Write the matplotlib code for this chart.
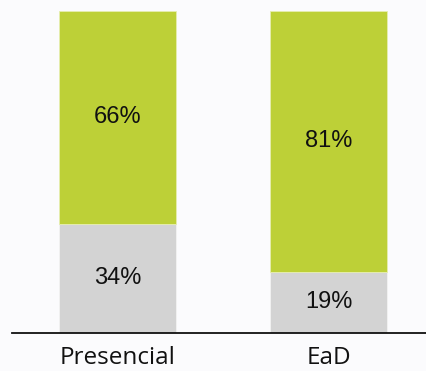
import matplotlib
matplotlib.use("Agg")
import matplotlib.pyplot as plt

categories = ["Presencial", "EaD"]
bottom_vals = [34, 19]
top_vals = [66, 81]

plt.rcParams['font.family'] = ['Liberation Sans', 'DejaVu Sans']
bg = "#FBFBFD"
fig = plt.figure(figsize=(4.26, 3.71), dpi=100, facecolor=bg)
ax = fig.add_axes([12/426, 38/371, 414/426, 322/371])
ax.set_facecolor(bg)
x = range(len(categories))
w = 0.553
ax.bar(x, bottom_vals, width=w, color="#D3D3D3", edgecolor="#F2F2F2", linewidth=0.6)
ax.bar(x, top_vals, width=w, bottom=bottom_vals, color="#BDD037", edgecolor="#E6EEB0", linewidth=0.6)
for i in x:
    ax.text(i, bottom_vals[i] / 2, f"{bottom_vals[i]}%", ha="center", va="center", fontsize=17, color="#111111")
    ax.text(i, bottom_vals[i] + top_vals[i] / 2, f"{top_vals[i]}%", ha="center", va="center", fontsize=17, color="#111111")
ax.set_xlim(-0.499, 1.459)
ax.set_ylim(0, 100)
for s in ["top", "right", "left"]:
    ax.spines[s].set_visible(False)
ax.spines["bottom"].set_linewidth(1.3)
ax.spines["bottom"].set_color("#111111")
ax.set_yticks([])
ax.set_xticks(list(x))
ax.set_xticklabels(categories, fontsize=17.5, color="#111111", family=['Open Sans', 'DejaVu Sans'])
ax.tick_params(axis="x", length=0, pad=9)
fig.savefig("out.png", dpi=100, facecolor=bg)
